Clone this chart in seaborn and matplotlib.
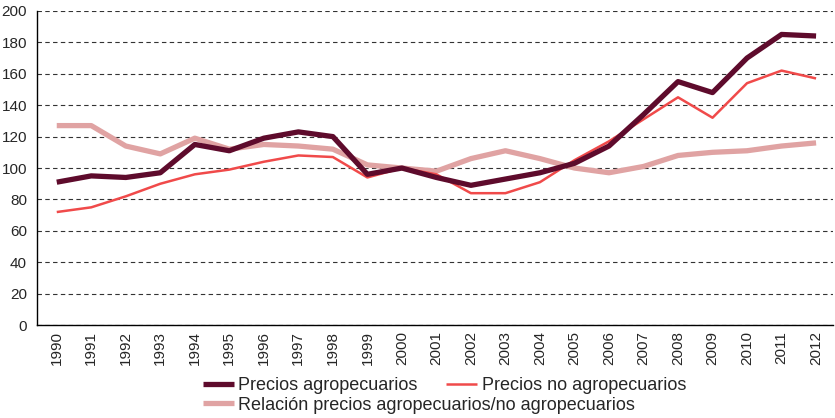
import matplotlib.pyplot as plt
import numpy as np
import pandas as pd
import seaborn as sns

years = [str(y) for y in range(1990, 2013)]
agro = [91, 95, 94, 97, 115, 111, 119, 123, 120, 96, 100, 94, 89, 93, 97, 103, 114, 134, 155, 148, 170, 185, 184]
no_agro = [72, 75, 82, 90, 96, 99, 104, 108, 107, 94, 100, 96, 84, 84, 91, 105, 117, 131, 145, 132, 154, 162, 157]
relacion = [127, 127, 114, 109, 119, 112, 115, 114, 112, 102, 100, 98, 106, 111, 106, 100, 97, 101, 108, 110, 111, 114, 116]

names = ['Precios agropecuarios', 'Precios no agropecuarios',
         'Relación precios agropecuarios/no agropecuarios']

df = pd.DataFrame({'year': years * 3,
                   'value': agro + no_agro + relacion,
                   'serie': [names[0]] * len(years) + [names[1]] * len(years) + [names[2]] * len(years)})
df['x'] = list(range(len(years))) * 3

sns.set_theme(style="white")
plt.rcParams['font.family'] = ['Liberation Sans', 'DejaVu Sans']

fig = plt.figure(figsize=(8.35, 4.18), dpi=100)
ax = fig.add_axes([0.044, 0.222, 0.954, 0.752])

palette = {names[0]: '#5e0b2c', names[1]: '#f04a4a', names[2]: '#e0a3a3'}
widths = {names[0]: 3.8, names[1]: 1.8, names[2]: 3.8}
order = [names[2], names[1], names[0]]
for s in order:
    sub = df[df['serie'] == s]
    sns.lineplot(data=sub, x='x', y='value', color=palette[s], lw=widths[s],
                 ax=ax, label=s, solid_capstyle='butt', zorder=3)

ax.set_xlim(-0.58, 22.5)
ax.set_ylim(0, 200)
ax.set_yticks(range(0, 201, 20))
ax.set_xticks(range(len(years)))
ax.set_xticklabels(years, rotation=90, fontsize=11)
ax.set_xticks(np.arange(-0.5, len(years), 1), minor=True)
ax.tick_params(axis='x', which='major', length=0, pad=4)
ax.tick_params(axis='x', which='minor', length=5, width=1, color='black', direction='out')
ax.tick_params(axis='y', length=5, width=1, color='black', direction='out', labelsize=11, pad=2)
ax.yaxis.grid(True, linestyle=(0, (4, 3)), color='#333333', lw=0.8)
ax.set_xlabel('')
ax.set_ylabel('')
for side in ['top', 'right']:
    ax.spines[side].set_visible(False)
for side in ['left', 'bottom']:
    ax.spines[side].set_color('black')
    ax.spines[side].set_linewidth(1)

handles, labels = ax.get_legend_handles_labels()
hmap = dict(zip(labels, handles))
ax.get_legend().remove()

leg_kw = dict(frameon=False, fontsize=13, handlelength=1.7, handletextpad=0.25,
              borderpad=0, borderaxespad=0, loc='center left')
leg1 = fig.legend([hmap[names[0]], hmap[names[1]]], [names[0], names[1]],
                  ncol=2, columnspacing=1.6, bbox_to_anchor=(0.243, 0.077), **leg_kw)
leg2 = fig.legend([hmap[names[2]]], [names[2]],
                  bbox_to_anchor=(0.243, 0.031), **leg_kw)

fig.savefig('out.png', dpi=100)
